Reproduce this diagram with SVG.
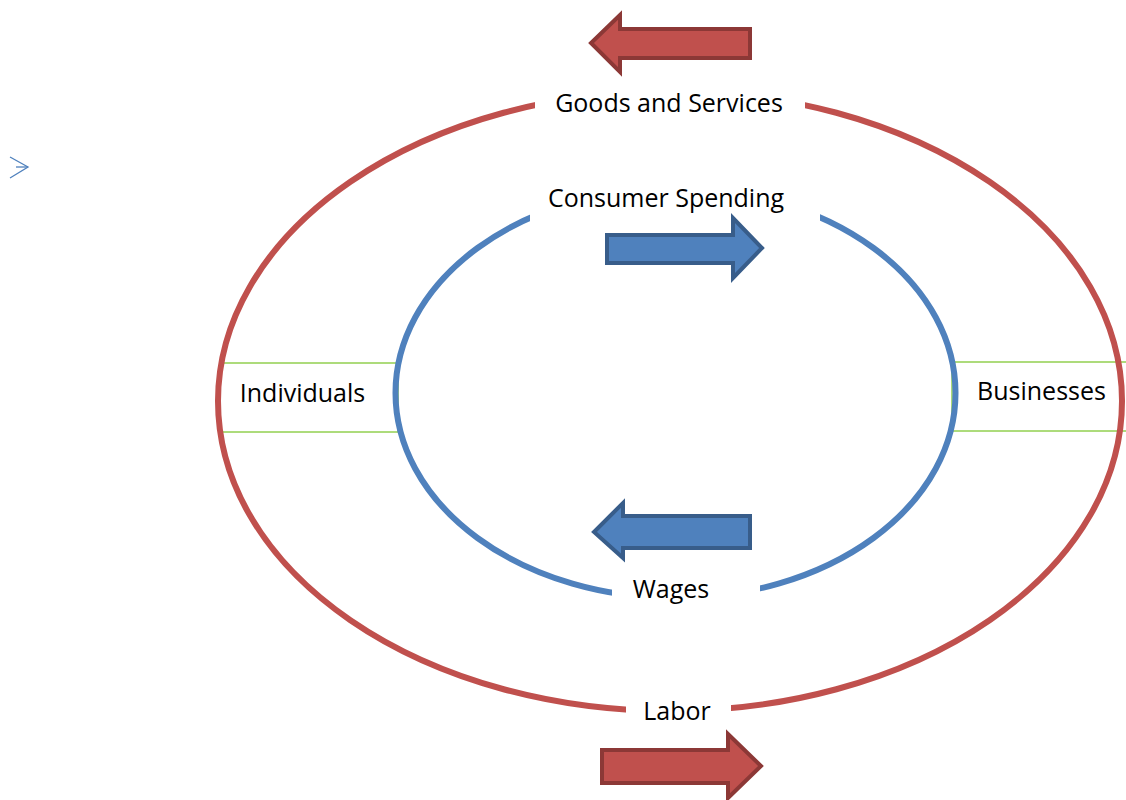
<svg xmlns="http://www.w3.org/2000/svg" width="1126" height="800" viewBox="0 0 1126 800">
  <style>
    .lbl { font-family: "Open Sans", "Liberation Sans", sans-serif; font-size: 25px; fill: #000; text-anchor: middle; }
    .box { fill: #fff; stroke: #92d050; stroke-width: 1.5; }
    .ring-red { fill: none; stroke: #c0504d; stroke-width: 6; }
    .ring-blue { fill: none; stroke: #4f81bd; stroke-width: 6; }
    .arrow-red { fill: #c0504d; stroke: #8c3836; stroke-width: 4; stroke-linejoin: miter; }
    .arrow-blue { fill: #4f81bd; stroke: #385d8a; stroke-width: 4; stroke-linejoin: miter; }
    .gap { fill: #fff; }
  </style>

  <rect width="1126" height="800" fill="#fff"/>

  <!-- sector boxes (drawn under the rings) -->
  <g id="individuals">
    <rect class="box" x="220" y="363" width="178" height="69"/>
  </g>
  <g id="businesses">
    <rect class="box" x="952" y="362" width="180" height="69"/>
  </g>

  <!-- flow rings -->
  <g id="connectors">
    <ellipse class="ring-red" cx="670" cy="401" rx="452" ry="310"/>
    <ellipse class="ring-blue" cx="675.5" cy="393" rx="280" ry="205"/>
  </g>

  <!-- ring labels with white knock-outs -->
  <g id="goods-services">
    <rect class="gap" x="535" y="80" width="270" height="44"/>
    <text class="lbl" x="669" y="112">Goods and Services</text>
  </g>
  <g id="consumer-spending">
    <rect class="gap" x="530" y="178" width="290" height="44"/>
    <text class="lbl" x="666" y="207">Consumer Spending</text>
  </g>
  <g id="wages">
    <rect class="gap" x="612" y="570" width="148" height="40"/>
    <text class="lbl" x="671" y="598">Wages</text>
  </g>
  <g id="labor">
    <rect class="gap" x="626" y="692" width="105" height="40"/>
    <text class="lbl" x="677" y="720">Labor</text>
  </g>

  <g id="individuals-label">
    <text class="lbl" x="302.5" y="402">Individuals</text>
  </g>
  <g id="businesses-label">
    <text class="lbl" x="1041.5" y="400">Businesses</text>
  </g>

  <!-- direction arrows -->
  <g id="arrow-goods">
    <polygon class="arrow-red" points="750,29 620,29 620,15 591,43 620,72 620,58 750,58"/>
  </g>
  <g id="arrow-spending">
    <polygon class="arrow-blue" points="607,235 733,235 733,218 762,248 733,278 733,263 607,263"/>
  </g>
  <g id="arrow-wages">
    <polygon class="arrow-blue" points="750,516 623,516 623,503 594,532 623,558 623,548 750,548"/>
  </g>
  <g id="arrow-labor">
    <polygon class="arrow-red" points="602,750 728,750 728,734 761,766 728,798 728,783 602,783"/>
  </g>

  <!-- small chevron mark -->
  <g id="chevron" fill="none" stroke="#4f81bd" stroke-width="1.3">
    <polyline points="10,157 28,167 10,178"/>
    <line x1="16" y1="167" x2="28" y2="167"/>
  </g>
</svg>
